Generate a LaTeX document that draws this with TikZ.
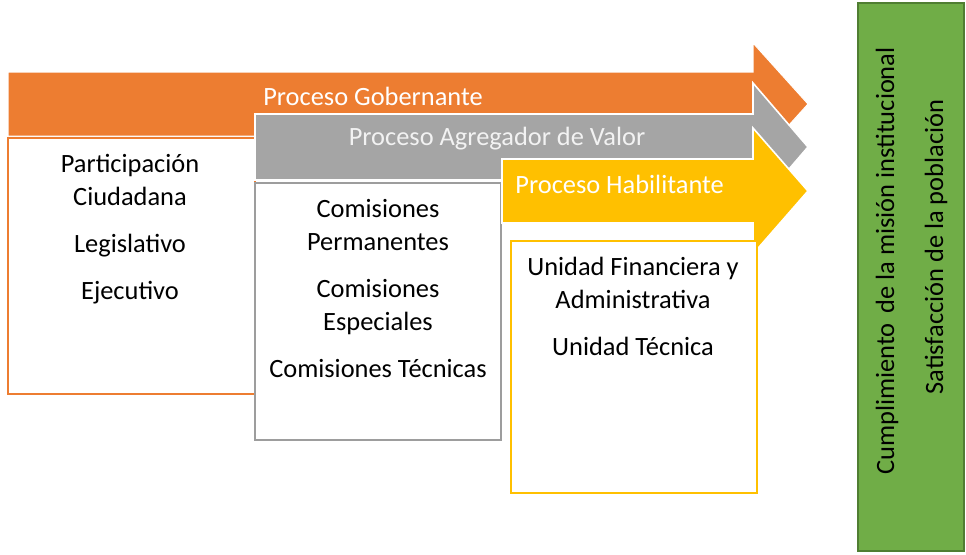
\documentclass[tikz,border=0pt]{standalone}
\usepackage{fontspec}
\setmainfont{Carlito}
\usepackage{tikz}
\definecolor{gobOrange}{HTML}{ED7D31}
\definecolor{valGray}{HTML}{A5A5A5}
\definecolor{habYellow}{HTML}{FFC000}
\definecolor{misGreen}{HTML}{70AD47}
\definecolor{misGreenDark}{HTML}{507E32}
\definecolor{lightText}{HTML}{F2F2F2}

\begin{document}
\begin{tikzpicture}[x=0.5pt, y=-0.5pt,
    procbox/.style={fill=white, line width=0.8pt},
    boxtext/.style={font=\fontsize{13.2}{16.5}\selectfont, align=center, anchor=north, inner sep=0pt},
    arrowtext/.style={font=\fontsize{13.2}{16.5}\selectfont, inner sep=0pt}]
    \useasboundingbox (0,0) rectangle (966,554);

    % Proceso gobernante
    \filldraw[fill=gobOrange, draw=white, line width=0.5pt]
        (8,72) -- (753,72) -- (753,43) -- (808,104) -- (753,165) -- (753,136) -- (8,136) -- cycle;
    \node[arrowtext, text=white] (gob) at (373,96) {Proceso Gobernante};
    \draw[procbox, draw=gobOrange] (8,138) rectangle (255,394);
    \node[boxtext] (gobtxt) at (130,154) {Participación\\Ciudadana\\[7pt]Legislativo\\[7pt]Ejecutivo};

    % Proceso agregador de valor
    \filldraw[fill=valGray, draw=white, line width=0.8pt]
        (255,114) -- (753,114) -- (753,83) -- (808,147) -- (753,211) -- (753,180) -- (255,180) -- cycle;
    \node[arrowtext, text=lightText] (val) at (497,139) {Proceso Agregador de Valor};
    \draw[procbox, draw=valGray!95!black] (255,183) rectangle (501,440);
    \node[boxtext] (valtxt) at (378,199) {Comisiones\\Permanentes\\[7pt]Comisiones\\Especiales\\[7pt]Comisiones Técnicas};

    % Proceso habilitante
    \filldraw[fill=habYellow, draw=white, line width=0.8pt]
        (502,159) -- (753,159) -- (753,128) -- (808,191) -- (753,254) -- (753,223) -- (502,223) -- cycle;
    \node[arrowtext, text=white, anchor=west] (hab) at (515,184) {Proceso Habilitante};
    \draw[procbox, draw=habYellow] (511,241) rectangle (757,493);
    \node[boxtext] (habtxt) at (633,257) {Unidad Financiera y\\Administrativa\\[7pt]Unidad Técnica};

    % Resultado
    \draw[fill=misGreen, draw=misGreenDark, line width=0.6pt] (858,3) rectangle (964,551);
    \node[arrowtext, rotate=90] (mision) at (887,261) {Cumplimiento\hspace{2pt} de la misión institucional};
    \node[arrowtext, rotate=90] (poblacion) at (936,247) {Satisfacción de la población};
\end{tikzpicture}
\end{document}
